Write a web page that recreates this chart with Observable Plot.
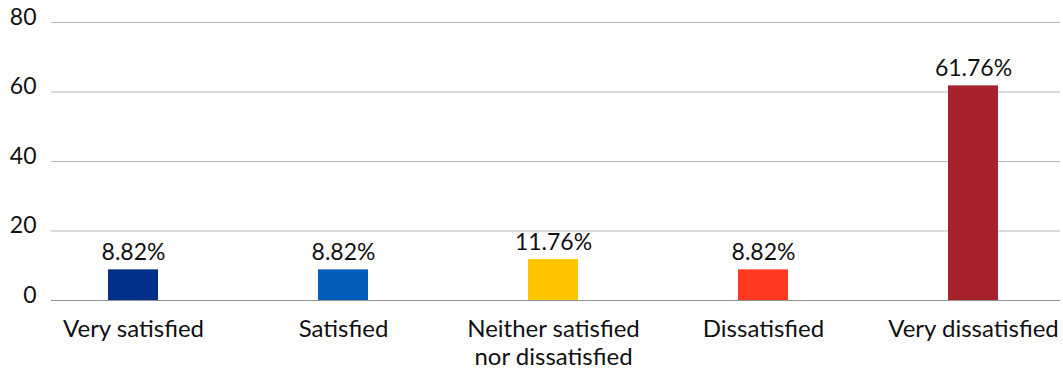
<!DOCTYPE html>
<html>
<head>
<meta charset="utf-8">
<script src="https://cdn.jsdelivr.net/npm/d3@7"></script>
<script src="https://cdn.jsdelivr.net/npm/@observablehq/plot@0.6"></script>
<style>
  html, body { margin: 0; padding: 0; background: #fff; }
  #chart svg { display: block; }
</style>
</head>
<body>
<div id="chart"></div>
<script>
// Satisfaction survey responses, share of respondents (%)
const categories = [
  "Very satisfied",
  "Satisfied",
  "Neither satisfied\nnor dissatisfied",
  "Dissatisfied",
  "Very dissatisfied"
];
const shares = [8.82, 8.82, 11.76, 8.82, 61.76];
const barColors = ["#00308a", "#005ebb", "#ffc600", "#ff3a20", "#a8222b"];
const yTicks = [0, 20, 40, 60, 80];

const data = categories.map((category, i) => ({
  category,
  share: shares[i],
  color: barColors[i]
}));

const font = "Lato, 'Open Sans', sans-serif";

const chart = Plot.plot({
  width: 1063,
  height: 370,
  marginLeft: 51,
  marginRight: 3,
  marginTop: 22,
  marginBottom: 70,
  style: { fontFamily: font, color: "#111", background: "#fff" },
  x: {
    domain: categories,
    range: [27, 1079],
    paddingInner: 0.762,
    paddingOuter: 0.381
  },
  y: { domain: [0, 80] },
  marks: [
    Plot.gridY(yTicks, { stroke: "#b3b8bf", strokeOpacity: 1, strokeWidth: 1 }),
    Plot.axisY(yTicks, {
      tickSize: 0,
      tickPadding: 15,
      fontSize: 23,
      dy: -5,
      label: null
    }),
    Plot.axisX({
      tickSize: 0,
      tickPadding: 16,
      fontSize: 24,
      lineHeight: 1.19,
      label: null
    }),
    Plot.barY(data, {
      x: "category",
      y: "share",
      fill: "color"
    }),
    Plot.ruleY([0], { stroke: "#8d9299", strokeWidth: 1.2 }),
    Plot.text(data, {
      x: "category",
      y: "share",
      text: (d) => d.share.toFixed(2) + "%",
      lineAnchor: "bottom",
      dy: -10,
      fontSize: 23,
      fill: "#111"
    })
  ]
});

document.getElementById("chart").appendChild(chart);
</script>
</body>
</html>
